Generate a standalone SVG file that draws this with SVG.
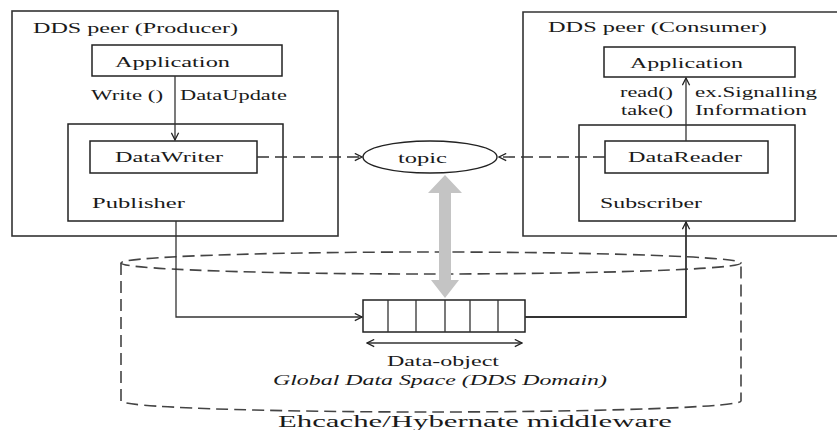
<svg xmlns="http://www.w3.org/2000/svg" width="837" height="430" viewBox="0 0 837 430">
<defs>
<style>
.box{fill:none;stroke:#222;stroke-width:1.5}
.outer{fill:none;stroke:#333;stroke-width:1.6}
.t{font-family:"Liberation Serif","Times New Roman",serif;font-size:15px;fill:#1a1a1a}
.it{font-style:italic}
.ln{fill:none;stroke:#333;stroke-width:1.3}
.dash{fill:none;stroke:#333;stroke-width:1.4;stroke-dasharray:12 6}
.cyl{fill:none;stroke:#444;stroke-width:1.6;stroke-dasharray:12 6}
</style>
<marker id="ah" viewBox="0 0 10 10" refX="9" refY="5" markerWidth="9" markerHeight="9" markerUnits="userSpaceOnUse" orient="auto-start-reverse">
<path d="M1,1 L9,5 L1,9" fill="none" stroke="#222" stroke-width="1.4"/>
</marker>
</defs>
<rect width="837" height="430" fill="#fff"/>

<g id="producer-peer">
<rect class="outer" x="12" y="11" width="326" height="225"/>
<text class="t" x="33" y="33" textLength="205" lengthAdjust="spacingAndGlyphs">DDS peer (Producer)</text>
</g>
<g id="producer-app">
<rect class="box" x="92" y="45" width="190" height="31"/>
<text class="t" x="115" y="67" textLength="115" lengthAdjust="spacingAndGlyphs">Application</text>
</g>
<g id="publisher">
<rect class="box" x="68" y="124" width="215" height="97"/>
<text class="t" x="92" y="208" textLength="93" lengthAdjust="spacingAndGlyphs">Publisher</text>
</g>
<g id="datawriter">
<rect class="box" x="90" y="141" width="167" height="32"/>
<text class="t" x="115" y="162" textLength="108" lengthAdjust="spacingAndGlyphs">DataWriter</text>
</g>

<g id="consumer-peer">
<path class="outer" d="M837,12 H523 V236 H837"/>
<text class="t" x="548" y="32" textLength="219" lengthAdjust="spacingAndGlyphs">DDS peer (Consumer)</text>
</g>
<g id="consumer-app">
<rect class="box" x="604" y="47" width="191" height="30"/>
<text class="t" x="630" y="68" textLength="113" lengthAdjust="spacingAndGlyphs">Application</text>
</g>
<g id="subscriber">
<rect class="box" x="579" y="125" width="216" height="96"/>
<text class="t" x="600" y="208" textLength="102" lengthAdjust="spacingAndGlyphs">Subscriber</text>
</g>
<g id="datareader">
<rect class="box" x="605" y="141" width="163" height="32"/>
<text class="t" x="628" y="162" textLength="114" lengthAdjust="spacingAndGlyphs">DataReader</text>
</g>

<g id="topic">
<ellipse cx="430" cy="157" rx="67" ry="16" fill="#fff" stroke="#222" stroke-width="1.4"/>
<text class="t" x="398" y="163" textLength="49" lengthAdjust="spacingAndGlyphs">topic</text>
</g>

<g id="middleware">
<ellipse class="cyl" cx="431" cy="263" rx="310" ry="11"/>
<path class="cyl" d="M121,263 V401 A310,11 0 0 0 741,401 V263"/>
<text class="t" x="278" y="427" textLength="394" lengthAdjust="spacingAndGlyphs" style="font-size:16px">Ehcache/Hybernate middleware</text>
</g>

<g id="queue">
<rect class="box" x="363" y="300" width="162" height="32"/>
<path class="ln" d="M388,300 V332 M416,300 V332 M445,300 V332 M470,300 V332 M498,300 V332"/>
<text class="t" x="387" y="366" textLength="112" lengthAdjust="spacingAndGlyphs">Data-object</text>
<text class="t it" x="273" y="385" textLength="334" lengthAdjust="spacingAndGlyphs">Global Data Space (DDS Domain)</text>
</g>

<g id="connectors">
<path class="ln" d="M175,76 V140" marker-end="url(#ah)"/>
<text class="t" x="91" y="100" textLength="72" lengthAdjust="spacingAndGlyphs">Write ()</text>
<text class="t" x="180" y="100" textLength="107" lengthAdjust="spacingAndGlyphs">DataUpdate</text>
<path class="ln" d="M686,141 V78" marker-end="url(#ah)"/>
<text class="t" x="620" y="97" textLength="53" lengthAdjust="spacingAndGlyphs">read()</text>
<text class="t" x="621" y="115" textLength="52" lengthAdjust="spacingAndGlyphs">take()</text>
<text class="t" x="695" y="97" textLength="122" lengthAdjust="spacingAndGlyphs">ex.Signalling</text>
<text class="t" x="695" y="115" textLength="112" lengthAdjust="spacingAndGlyphs">Information</text>
<path class="dash" d="M257,157 H362" marker-end="url(#ah)"/>
<path class="dash" d="M605,157 H499" marker-end="url(#ah)"/>
<path class="ln" d="M176,221 V317 H362" marker-end="url(#ah)"/>
<path class="ln" d="M525,317 H686 V222" marker-end="url(#ah)" style="stroke-width:1.8"/>
<path class="ln" d="M367,343 H522" marker-start="url(#ah)" marker-end="url(#ah)"/>
<polygon points="445,175 462,193 451,193 451,280 459,280 445,298 431,280 439,280 439,193 428,193" fill="#c4c4c4"/>
</g>
</svg>
